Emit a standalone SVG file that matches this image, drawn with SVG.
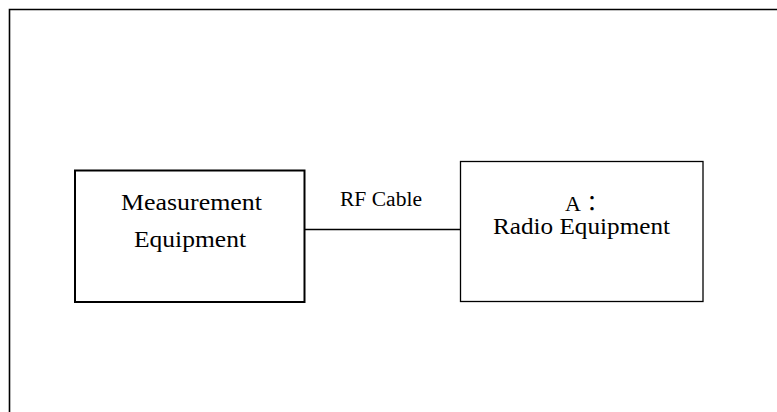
<svg xmlns="http://www.w3.org/2000/svg" width="777" height="412" viewBox="0 0 777 412">
<style>
.t{font-family:"Liberation Serif","Noto Sans CJK JP",serif;fill:#000;text-anchor:middle}
.b{fill:#fff;stroke:#000}
</style>
<rect width="777" height="412" fill="#fff"/>
<path d="M9.5,412 V9.5 H777" fill="none" stroke="#000" stroke-width="1.6"/>
<g id="connectors">
<line x1="304" y1="229.5" x2="460" y2="229.5" stroke="#000" stroke-width="1.5"/>
</g>
<g id="measurement">
<rect class="b" x="75" y="170.5" width="229.5" height="131.5" stroke-width="2"/>
<text class="t" x="191.5" y="210" font-size="23" textLength="141" lengthAdjust="spacingAndGlyphs">Measurement</text>
<text class="t" x="190" y="247" font-size="23" textLength="112" lengthAdjust="spacingAndGlyphs">Equipment</text>
</g>
<g id="rf-label">
<text class="t" x="381" y="206" font-size="20" textLength="82" lengthAdjust="spacingAndGlyphs">RF Cable</text>
</g>
<g id="radio">
<rect class="b" x="460.5" y="161.5" width="242.5" height="140" stroke-width="1.3"/>
<text class="t" x="584" y="211" font-size="22">A：</text>
<text class="t" x="581.5" y="234" font-size="23" textLength="177" lengthAdjust="spacingAndGlyphs">Radio Equipment</text>
</g>
</svg>
